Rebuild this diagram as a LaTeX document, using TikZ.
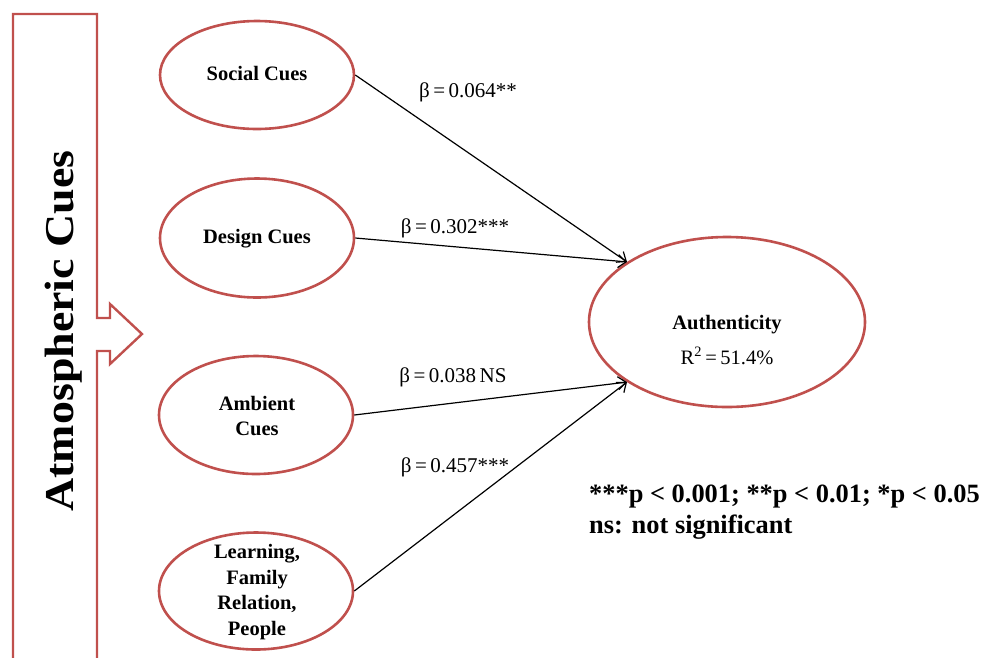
\documentclass[tikz,border=0pt]{standalone}
\usepackage{fontspec}
\setmainfont{Liberation Serif}
\usetikzlibrary{shapes.geometric,arrows.meta}
\definecolor{cuered}{RGB}{192,80,77}

\begin{document}
\begin{tikzpicture}[x=1pt,y=-1pt,
  cue/.style={draw=cuered, line width=2.6pt, ellipse, inner sep=0pt, minimum width=194pt},
  ctext/.style={font=\fontsize{20.5}{25.5}\selectfont\bfseries, align=center, inner sep=0pt},
  coef/.style={font=\fontsize{21}{24}\selectfont, inner sep=0pt},
  link/.style={draw=black, line width=1.2pt, -{Straight Barb[length=8pt,width=13pt,line width=1.2pt]}}
]
\useasboundingbox (0,0) rectangle (987,657);

% bracket box with the arrow pointing at the cue constructs
\draw[cuered, line width=2.4pt, line join=miter]
  (13,660) -- (13,14) -- (97,14) -- (97,318) -- (110,318) -- (110,304)
  -- (142,334) -- (110,364) -- (110,351) -- (97,351) -- (97,660);
\node[rotate=90, inner sep=0pt, font=\fontsize{41}{41}\selectfont\bfseries]
  (atm) at (64,331) {\scalebox{1.12}[1]{Atmospheric Cues}};

% cue constructs
\node[cue, minimum height=108pt] (soc) at (257,75) {};
\node[cue, minimum height=119pt] (des) at (257,238) {};
\node[cue, minimum height=118pt] (amb) at (256,415) {};
\node[cue, minimum height=117pt] (lrn) at (256,591) {};
\node[ctext] (soct) at (257,74) {Social Cues};
\node[ctext] (dest) at (257,239) {Design Cues};
\node[ctext] (ambt) at (257,416) {Ambient\\Cues};
\node[ctext] (lrnt) at (257,592) {Learning,\\Family\\Relation,\\People};

% outcome construct
\node[cue, minimum width=276pt, minimum height=170pt] (auth) at (727,322) {};
\node[ctext, font=\fontsize{20.5}{35}\selectfont] (autht) at (727,340)
  {\textbf{Authenticity}\\R\textsuperscript{2}\,=\,51.4\%};

% structural paths
\draw[link] (soc.east) -- (auth.149);
\draw[link] (des.east) -- (auth.149);
\draw[link] (amb.east) -- (auth.211);
\draw[link] (lrn.east) -- (auth.211);

% path coefficients
\node[coef] (b1) at (468,92) {β\,=\,0.064**};
\node[coef] (b2) at (455,228) {β\,=\,0.302***};
\node[coef] (b3) at (453,377) {β\,=\,0.038\,NS};
\node[coef] (b4) at (455,467) {β\,=\,0.457***};

% significance legend
\node[anchor=west, align=left, inner sep=0pt,
  font=\fontsize{26.4}{31}\selectfont\bfseries] (leg) at (589,512)
  {***p < 0.001; **p < 0.01; *p < 0.05\\ns: not significant};
\end{tikzpicture}
\end{document}
